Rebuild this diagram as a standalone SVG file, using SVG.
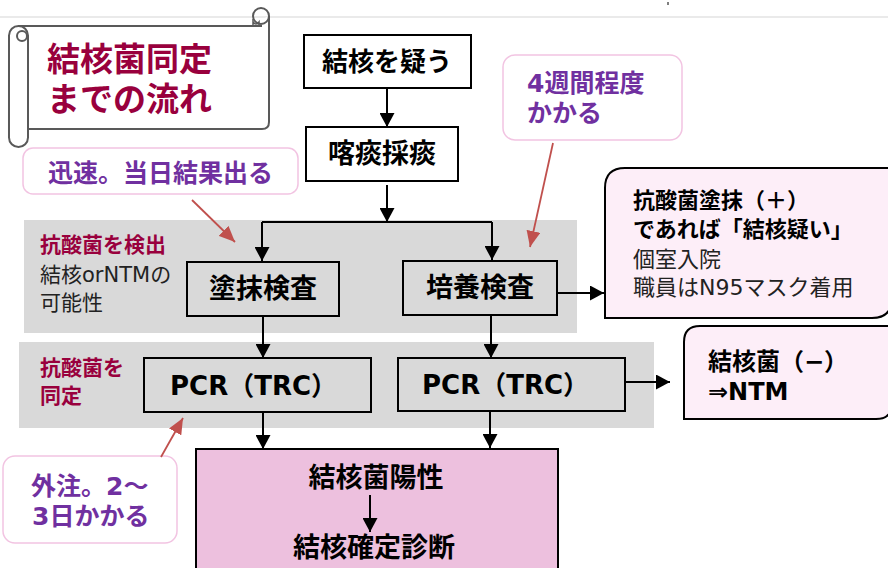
<svg xmlns="http://www.w3.org/2000/svg" width="888" height="568" viewBox="0 0 888 568">
<defs>
<style>
text{font-family:"DejaVu Sans","Noto Sans CJK JP",sans-serif}
.b{font-weight:bold}
.box{fill:#D9D9D9;stroke:#000;stroke-width:2}
.wbox{fill:#FFFFFF;stroke:#000;stroke-width:2}
.band{fill:#D9D9D9}
.call{fill:#FFFFFF;stroke:#F2C4E2;stroke-width:1.5}
.crim{fill:#99003D;font-weight:bold}
.purp{fill:#7030A0;font-weight:bold;font-size:25px}
.conn{stroke:#000;stroke-width:2;fill:none}
.red{stroke:#C0504D;stroke-width:1.8;fill:none}
.scroll{fill:#FFFFFF;stroke:#595959;stroke-width:2}
</style>
<marker id="ah" viewBox="0 0 14 15" refX="14" refY="7.5" markerWidth="14" markerHeight="15" markerUnits="userSpaceOnUse" orient="auto">
<path d="M0,0 L14,7.5 L0,15 Z" fill="#000"/>
</marker>
<marker id="rh" viewBox="0 0 16 14" refX="16" refY="7" markerWidth="16" markerHeight="14" markerUnits="userSpaceOnUse" orient="auto">
<path d="M0,0 L16,7 L0,14 Z" fill="#C0504D"/>
</marker>
</defs>
<rect width="888" height="568" fill="#FFFFFF"/>
<line x1="0" y1="17" x2="888" y2="17" stroke="#E3E3E3" stroke-width="1.5"/>
<line x1="668" y1="2" x2="668" y2="5" stroke="#000" stroke-width="1"/>

<g id="bands">
<rect class="band" x="24" y="220" width="553" height="113"/>
<rect class="band" x="19" y="342" width="635" height="86"/>
</g>

<g id="title">
<path class="scroll" d="M18,26 L262,26 M269,16 L269,122 Q269,129 262,129 L28,129"/>
<rect class="scroll" x="9" y="26" width="19" height="121" rx="9.5"/>
<circle class="scroll" cx="22" cy="36" r="5"/>
<circle cx="261" cy="16" r="8" fill="none" stroke="#595959" stroke-width="2"/>
<path d="M253,19 L253,26 M253,22 Q256,26 259,22 L259,26" fill="none" stroke="#595959" stroke-width="1.5"/>
<text class="crim" x="47" y="71" font-size="33">結核菌同定</text>
<text class="crim" x="47" y="111" font-size="33">までの流れ</text>
</g>

<g id="n1">
<rect class="wbox" x="304" y="35" width="167" height="53"/>
<text class="b" x="387" y="71" font-size="26" text-anchor="middle">結核を疑う</text>
</g>
<g id="n2">
<rect class="wbox" x="306" y="127" width="152" height="54"/>
<text class="b" x="382" y="163" font-size="27" text-anchor="middle">喀痰採痰</text>
</g>

<g id="band1label">
<text class="crim" x="40" y="252" font-size="21">抗酸菌を検出</text>
<text x="40" y="282" font-size="21" fill="#222">結核orNTMの</text>
<text x="40" y="310" font-size="21" fill="#222">可能性</text>
</g>
<g id="band2label">
<text class="crim" x="40" y="375" font-size="21">抗酸菌を</text>
<text class="crim" x="40" y="403" font-size="21">同定</text>
</g>

<g id="n3">
<rect class="box" x="187" y="262" width="152" height="54"/>
<text class="b" x="263" y="298" font-size="27" text-anchor="middle">塗抹検査</text>
</g>
<g id="n4">
<rect class="box" x="403" y="261" width="154" height="54"/>
<text class="b" x="480" y="297" font-size="27" text-anchor="middle">培養検査</text>
</g>
<g id="n5">
<rect class="box" x="144" y="358" width="227" height="54"/>
<text class="b" x="170" y="395" font-size="26">PCR（TRC）</text>
</g>
<g id="n6">
<rect class="box" x="398" y="358" width="227" height="53"/>
<text class="b" x="422" y="394" font-size="26">PCR（TRC）</text>
</g>

<g id="n7">
<path d="M605,188 Q605,168 625,168 L892,168 L892,298 Q892,318 872,318 L605,318 Z" fill="#FDEEF8" stroke="#000" stroke-width="2"/>
<text class="b" x="633" y="208" font-size="22">抗酸菌塗抹（＋）</text>
<text class="b" x="633" y="237" font-size="22">であれば「結核疑い」</text>
<text x="633" y="267" font-size="22" fill="#222">個室入院</text>
<text x="633" y="295" font-size="22" fill="#222">職員はN95マスク着用</text>
</g>
<g id="n8">
<path d="M684,342 Q684,326 700,326 L892,326 L892,403 Q892,419 876,419 L684,419 Z" fill="#FDEEF8" stroke="#000" stroke-width="2"/>
<text class="b" x="708" y="370" font-size="24">結核菌（−）</text>
<text class="b" x="708" y="400" font-size="24">⇒NTM</text>
</g>

<g id="n9">
<rect x="196" y="449" width="362" height="130" fill="#EDC0DE" stroke="#000" stroke-width="2"/>
<text class="b" x="376" y="487" font-size="27" text-anchor="middle">結核菌陽性</text>
<text class="b" x="374" y="557" font-size="27" text-anchor="middle">結核確定診断</text>
<line class="conn" x1="370" y1="495" x2="370" y2="532" marker-end="url(#ah)"/>
</g>

<g id="c1">
<rect class="call" x="23" y="148" width="275" height="46" rx="10"/>
<text class="purp" x="48" y="182">迅速。当日結果出る</text>
</g>
<g id="c2">
<rect class="call" x="503" y="55" width="179" height="85" rx="12"/>
<text class="purp" x="527" y="92">4週間程度</text>
<text class="purp" x="527" y="122">かかる</text>
</g>
<g id="c3">
<rect class="call" x="3" y="456" width="174" height="87" rx="12"/>
<text class="purp" x="31" y="495">外注。2〜</text>
<text class="purp" x="32" y="525">3日かかる</text>
</g>

<g id="connectors">
<line class="conn" x1="387" y1="88" x2="387" y2="127" marker-end="url(#ah)"/>
<line class="conn" x1="387" y1="185" x2="387" y2="222" marker-end="url(#ah)"/>
<path class="conn" d="M262,222 L492,222"/>
<line class="conn" x1="262" y1="222" x2="262" y2="261" marker-end="url(#ah)"/>
<line class="conn" x1="492" y1="222" x2="492" y2="260" marker-end="url(#ah)"/>
<line class="conn" x1="263" y1="316" x2="263" y2="358" marker-end="url(#ah)"/>
<line class="conn" x1="491" y1="315" x2="491" y2="358" marker-end="url(#ah)"/>
<line class="conn" x1="263" y1="412" x2="263" y2="449" marker-end="url(#ah)"/>
<line class="conn" x1="490" y1="411" x2="490" y2="448" marker-end="url(#ah)"/>
<line class="conn" x1="557" y1="293" x2="604" y2="293" marker-end="url(#ah)"/>
<line class="conn" x1="625" y1="382" x2="670" y2="382" marker-end="url(#ah)"/>
<line class="red" x1="192" y1="200" x2="235" y2="242" marker-end="url(#rh)"/>
<line class="red" x1="553" y1="143" x2="530" y2="247" marker-end="url(#rh)"/>
<line class="red" x1="161" y1="457" x2="183" y2="418" marker-end="url(#rh)"/>
</g>
</svg>
